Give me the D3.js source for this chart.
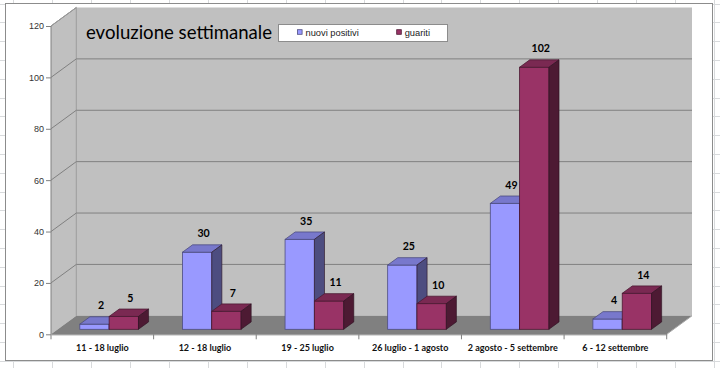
<!DOCTYPE html>
<html>
<head>
<meta charset="utf-8">
<script src="https://cdn.jsdelivr.net/npm/d3@7"></script>
<style>
  body { margin: 0; background: #fff; }
  svg { display: block; }
</style>
</head>
<body>
<div id="chart-area"></div>
<script>
// canvas size
var width = 720,
	height = 368;

// data
var categories = ["11 - 18 luglio", "12 - 18 luglio", "19 - 25 luglio",
	"26 luglio - 1 agosto", "2 agosto - 5 settembre", "6 - 12 settembre"];
var seriesNames = ["nuovi positivi", "guariti"];
var nuoviPositivi = [2, 30, 35, 25, 49, 4];
var guariti = [5, 7, 11, 10, 102, 14];
var yTicks = [0, 20, 40, 60, 80, 100, 120];

// colours per series: front, top, side
var colors = {
	"nuovi positivi": { front: "#9999ff", top: "#7878cc", side: "#4d4d80" },
	"guariti": { front: "#993366", top: "#7a2952", side: "#4d1a33" }
};

var svg = d3.select("#chart-area")
	.append("svg")
	.attr("width", width)
	.attr("height", height);

// spreadsheet grid behind the chart
var colLines = d3.range(13, 720, 38.95);
var rowLines = d3.range(3.5, 368, 18.8);
svg.selectAll(".col").data(colLines).enter().append("line")
	.attr("x1", function(d) { return Math.round(d) + 0.5; })
	.attr("x2", function(d) { return Math.round(d) + 0.5; })
	.attr("y1", 0).attr("y2", height)
	.attr("stroke", "#d8dadc");
svg.selectAll(".row").data(rowLines).enter().append("line")
	.attr("y1", function(d) { return Math.round(d) + 0.5; })
	.attr("y2", function(d) { return Math.round(d) + 0.5; })
	.attr("x1", 0).attr("x2", width)
	.attr("stroke", "#d8dadc");

// chart area
svg.append("rect")
	.attr("x", 5.5).attr("y", 3.5)
	.attr("width", 707).attr("height", 357)
	.attr("fill", "#fff")
	.attr("stroke", "#8c8c8c");

// scales (front plane)
var x = d3.scaleBand()
	.domain(categories)
	.range([51, 666.7]);

var xs = d3.scaleBand()
	.domain(seriesNames)
	.range([0, x.bandwidth()])
	.paddingOuter(0.75)
	.paddingInner(0);

var y = d3.scaleLinear()
	.domain([0, 120])
	.range([334.3, 26]);

// depth of the 3d box
var depth = { dx: 25.3, dy: 18.5 };
var barFront = 0.27, barDepth = 0.4;

var x0 = x.range()[0], x1 = x.range()[1];
var pt = function(a) { return a.join(","); };

// left wall
svg.append("polygon")
	.attr("points", [[x0, y(0)], [x0, y(120)], [x0 + depth.dx, y(120) - depth.dy], [x0 + depth.dx, y(0) - depth.dy]].map(pt).join(" "))
	.attr("fill", "#c0c0c0");

// back wall
svg.append("rect")
	.attr("x", x0 + depth.dx).attr("y", y(120) - depth.dy)
	.attr("width", x1 - x0).attr("height", y(0) - y(120))
	.attr("fill", "#c0c0c0");

svg.append("line")
	.attr("x1", x0 + depth.dx).attr("x2", x0 + depth.dx)
	.attr("y1", y(120) - depth.dy).attr("y2", y(0) - depth.dy)
	.attr("stroke", "#9a9a9a");

// gridlines on back and left wall
var grid = yTicks.filter(function(d) { return d > 0 && d < 120; });
svg.selectAll(".gridBack").data(grid).enter().append("line")
	.attr("x1", x0 + depth.dx).attr("x2", x1 + depth.dx)
	.attr("y1", function(d) { return y(d) - depth.dy; })
	.attr("y2", function(d) { return y(d) - depth.dy; })
	.attr("stroke", "#808080");
svg.selectAll(".gridSide").data(yTicks.filter(function(d) { return d > 0; })).enter().append("line")
	.attr("x1", x0).attr("x2", x0 + depth.dx)
	.attr("y1", function(d) { return y(d); })
	.attr("y2", function(d) { return y(d) - depth.dy; })
	.attr("stroke", "#808080");

// floor
svg.append("polygon")
	.attr("points", [[x0, y(0)], [x1, y(0)], [x1 + depth.dx, y(0) - depth.dy], [x0 + depth.dx, y(0) - depth.dy]].map(pt).join(" "))
	.attr("fill", "#808080");
svg.append("line")
	.attr("x1", x1).attr("y1", y(0))
	.attr("x2", x1 + depth.dx).attr("y2", y(0) - depth.dy)
	.attr("stroke", "#a8a8a8");

// bars
var bars = [];
categories.forEach(function(c, i) {
	bars.push({ cat: c, series: "nuovi positivi", value: nuoviPositivi[i] });
	bars.push({ cat: c, series: "guariti", value: guariti[i] });
});

var fx = barFront * depth.dx, fy = barFront * depth.dy;
var bdx = barDepth * depth.dx, bdy = barDepth * depth.dy;

var barG = svg.selectAll(".bar").data(bars).enter().append("g");

barG.each(function(d) {
	var g = d3.select(this);
	var left = x(d.cat) + xs(d.series) + fx;
	var right = left + xs.bandwidth();
	var top = y(d.value) - fy;
	var bottom = y(0) - fy;
	var col = colors[d.series];
	// front
	g.append("rect")
		.attr("x", left).attr("y", top)
		.attr("width", right - left).attr("height", bottom - top)
		.attr("fill", col.front)
		.attr("stroke", col.side).attr("stroke-width", 0.8);
	// top
	g.append("polygon")
		.attr("points", [[left, top], [left + bdx, top - bdy], [right + bdx, top - bdy], [right, top]].map(pt).join(" "))
		.attr("fill", col.top)
		.attr("stroke", col.side).attr("stroke-width", 0.8);
	// side
	g.append("polygon")
		.attr("points", [[right, top], [right + bdx, top - bdy], [right + bdx, bottom - bdy], [right, bottom]].map(pt).join(" "))
		.attr("fill", col.side)
		.attr("stroke", "#2a1020").attr("stroke-width", 0.6);
});

// data labels
svg.selectAll(".label").data(bars).enter().append("text")
	.attr("x", function(d) { return x(d.cat) + xs(d.series) + fx + xs.bandwidth() / 2 + 6.5; })
	.attr("y", function(d) { return y(d.value) - fy - 14.8; })
	.attr("text-anchor", "middle")
	.attr("font-family", "Lato, sans-serif")
	.attr("font-weight", "bold")
	.attr("font-size", "10.6px")
	.attr("fill", "#000")
	.text(function(d) { return d.value; });

// y axis
svg.append("line")
	.attr("x1", x0).attr("x2", x0)
	.attr("y1", y(120)).attr("y2", y(0))
	.attr("stroke", "#808080");
svg.append("line")
	.attr("x1", x0).attr("y1", y(120))
	.attr("x2", x0 + depth.dx).attr("y2", y(120) - depth.dy)
	.attr("stroke", "#9a9a9a");

var yAxis = d3.axisLeft(y)
	.tickValues(yTicks)
	.tickSize(5)
	.tickPadding(2);
var yAxisG = svg.append("g")
	.attr("transform", "translate(" + x0 + ",0)")
	.call(yAxis);
yAxisG.select(".domain").remove();
yAxisG.selectAll(".tick line").attr("stroke", "#808080");
yAxisG.selectAll(".tick text")
	.attr("font-family", "'Liberation Sans', Arial, sans-serif")
	.attr("font-size", "9px")
	.attr("fill", "#333");

// x axis
var xAxis = d3.axisBottom(x)
	.tickSize(0)
	.tickPadding(10);
var xAxisG = svg.append("g")
	.attr("transform", "translate(0," + y(0) + ")")
	.call(xAxis);
xAxisG.select(".domain").attr("stroke", "#808080");
xAxisG.selectAll(".tick text")
	.attr("font-family", "Lato, sans-serif")
	.attr("font-weight", "bold")
	.attr("font-size", "9px")
	.attr("fill", "#111");
xAxisG.selectAll(".sep").data(categories.concat(["end"])).enter().append("line")
	.attr("x1", function(d, i) { return x0 + i * x.step(); })
	.attr("x2", function(d, i) { return x0 + i * x.step(); })
	.attr("y1", 0).attr("y2", 5)
	.attr("stroke", "#808080");

// title
svg.append("text")
	.attr("x", 86).attr("y", 38.5)
	.attr("font-family", "Lato, sans-serif")
	.attr("font-size", "18.6px")
	.attr("fill", "#000")
	.text("evoluzione settimanale");

// legend
var legend = svg.append("g");
legend.append("rect")
	.attr("x", 278.5).attr("y", 24.5)
	.attr("width", 169).attr("height", 17)
	.attr("fill", "#fff")
	.attr("stroke", "#8c8c8c");
var legendX = [297.5, 396.7];
var items = legend.selectAll(".item").data(seriesNames).enter().append("g")
	.attr("transform", function(d, i) { return "translate(" + legendX[i] + ",0)"; });
items.append("rect")
	.attr("x", 0).attr("y", 29.7)
	.attr("width", 4.6).attr("height", 4.6)
	.attr("fill", function(d) { return colors[d].front; })
	.attr("stroke", function(d) { return colors[d].side; })
	.attr("stroke-width", 0.8);
items.append("text")
	.attr("x", 8).attr("y", 35.7)
	.attr("font-family", "'Liberation Sans', Arial, sans-serif")
	.attr("font-size", "9.3px")
	.attr("fill", "#222")
	.text(function(d) { return d; });
</script>
</body>
</html>
